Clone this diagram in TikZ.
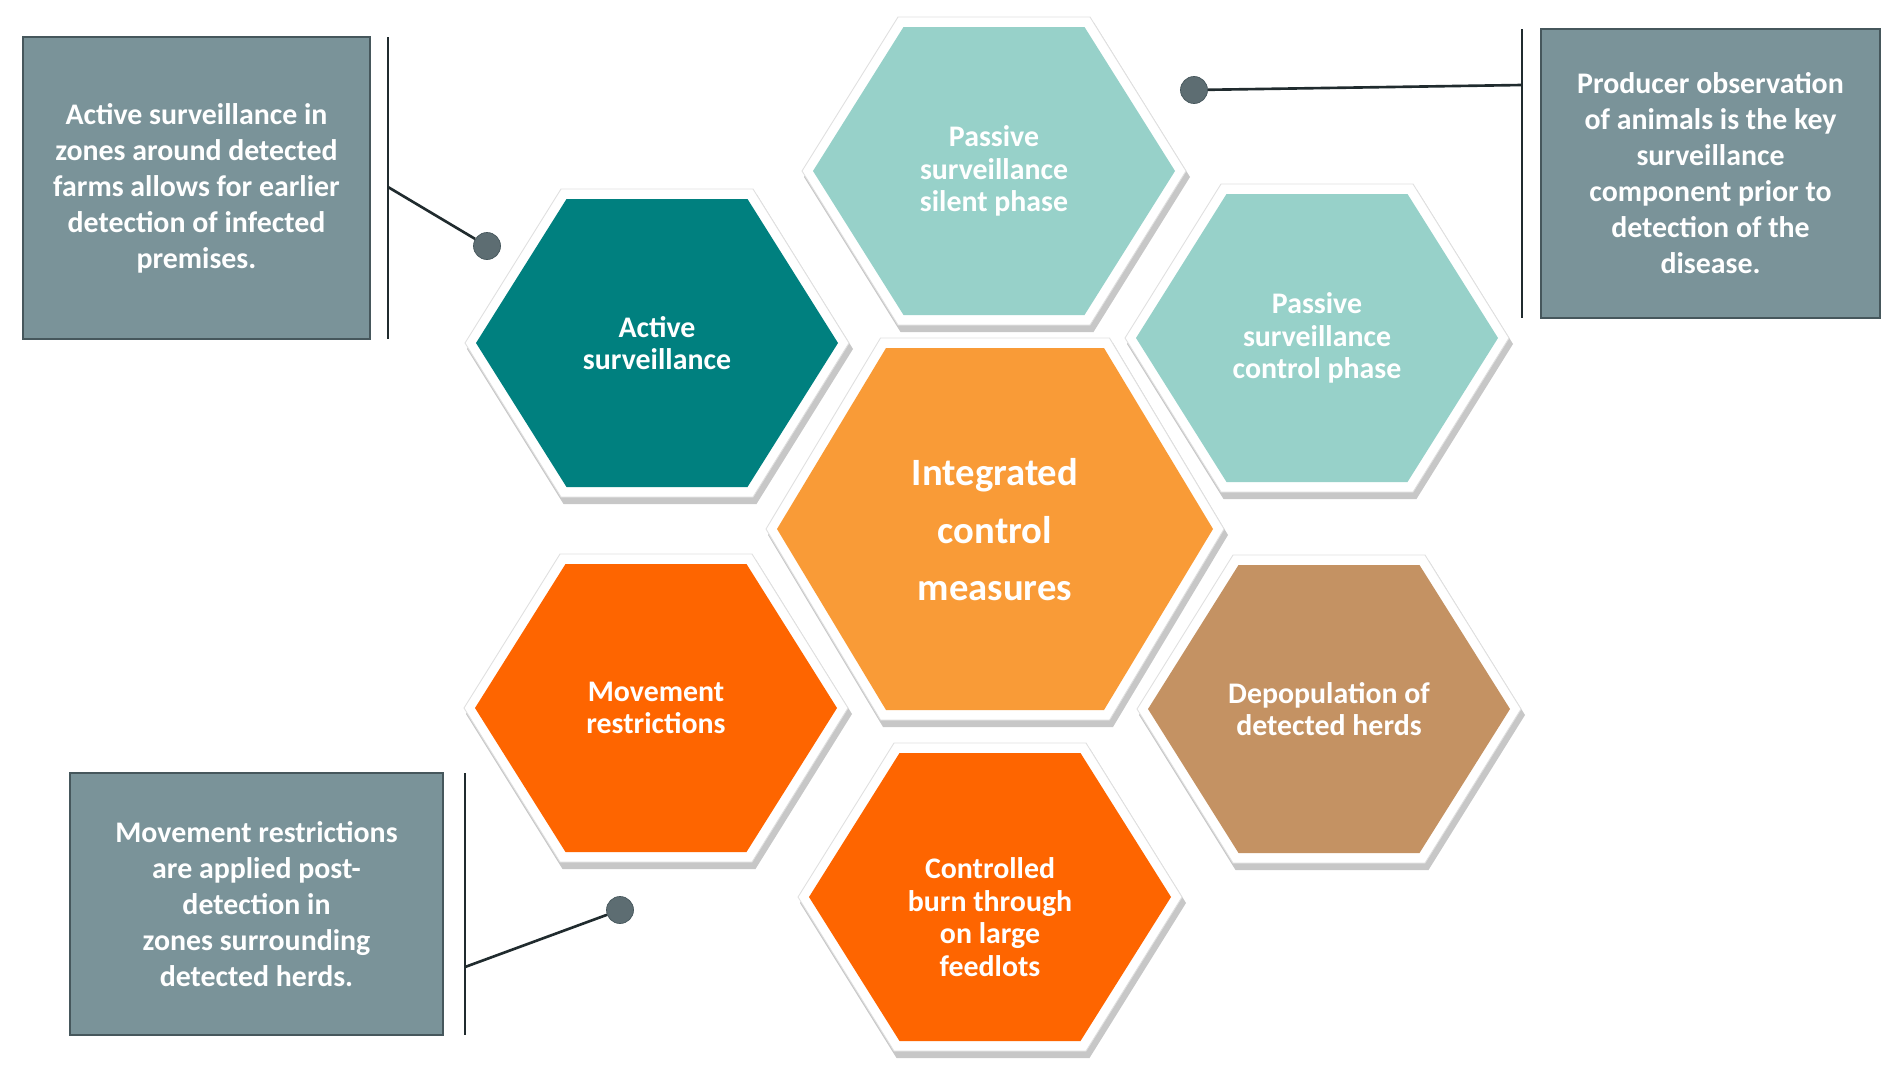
\documentclass[tikz,border=0pt]{standalone}
\usepackage{fontspec}
\newfontfamily\carlito{Carlito}

\definecolor{tealdark}{HTML}{00807F}
\definecolor{teallight}{HTML}{97D1C9}
\definecolor{orangemid}{HTML}{F99B37}
\definecolor{orangedeep}{HTML}{FE6500}
\definecolor{tan}{HTML}{C49263}
\definecolor{notegray}{HTML}{7A9399}
\definecolor{noteedge}{HTML}{46575C}
\definecolor{dotgray}{HTML}{5D6D72}
\definecolor{linedark}{HTML}{202B2E}

\tikzset{hexa/.pic={\path[pic actions] (-1,0) -- (-.5,1) -- (.5,1) -- (1,0) -- (.5,-1) -- (-.5,-1) -- cycle;}}

% centre x, centre y, half width, half height, colour
\newcommand{\hexcell}[5]{%
  \pic[fill=black, opacity=.22, xscale=#3+12, yscale=#4+11] at (#1+3,#2+6) {hexa};
  \pic[fill=white, draw=black!12, line width=.5pt, xscale=#3+11, yscale=#4+10] at (#1,#2) {hexa};
  \pic[fill=#5, xscale=#3, yscale=#4] at (#1,#2) {hexa};
}

\begin{document}
\begin{tikzpicture}[x=0.02cm, y=-0.02cm,
    hexlabel/.style={text=white, align=center, inner sep=0pt,
      font=\carlito\bfseries\fontsize{17}{18.6}\selectfont},
    centrelabel/.style={text=white, align=center, inner sep=0pt,
      font=\carlito\bfseries\fontsize{22}{32.7}\selectfont},
    notebox/.style={rectangle, fill=notegray, draw=noteedge, line width=1.1pt,
      text=white, align=center, inner sep=0pt,
      font=\carlito\bfseries\fontsize{17}{20.5}\selectfont},
    notebar/.style={draw=linedark, line width=1.6pt},
    notelink/.style={draw=linedark, line width=1.5pt},
    calldot/.style={circle, fill=dotgray, draw=noteedge, line width=.4pt,
      minimum size=0.54cm, inner sep=0pt}]
  \fill[white] (0,0) rectangle (1902,1075);
  \useasboundingbox (0,0) rectangle (1902,1075);

  \hexcell{657}{343}{181}{144}{tealdark}
  \hexcell{994}{171}{181}{144}{teallight}
  \hexcell{1317}{338}{181}{144}{teallight}
  \hexcell{995}{529}{218}{181}{orangemid}
  \hexcell{1329}{709}{181}{144}{tan}
  \hexcell{990}{897}{181}{144}{orangedeep}
  \hexcell{656}{708}{181}{144}{orangedeep}

  \node[hexlabel] (active) at (657,343) {Active\\surveillance};
  \node[hexlabel] (silent) at (994,171) {Passive\\surveillance\\silent phase};
  \node[hexlabel] (control) at (1317,338) {Passive\\surveillance\\control phase};
  \node[centrelabel] (integrated) at (995,530) {Integrated\\control\\measures};
  \node[hexlabel] (depop) at (1329,709) {Depopulation of\\detected herds};
  \node[hexlabel] (burn) at (990,917) {Controlled\\burn through\\on large\\feedlots};
  \node[hexlabel] (movement) at (656,708) {Movement\\restrictions};

  \node[notebox, minimum width=6.94cm, minimum height=6.04cm] (activenote) at (196.5,188)
    {Active surveillance in\\zones around detected\\farms allows for earlier\\detection of infected\\premises.};
  \node[notebox, minimum width=6.78cm, minimum height=5.78cm] (passivenote) at (1710.5,173.5)
    {Producer observation\\of animals is the key\\surveillance\\component prior to\\detection of the\\disease.};
  \node[notebox, minimum width=7.46cm, minimum height=5.24cm] (movenote) at (256.5,904)
    {Movement restrictions\\are applied post-\\detection in\\zones surrounding\\detected herds.};

  \coordinate (activetop) at (388,37);
  \coordinate (activebot) at (388,339);
  \coordinate (activejoin) at (388,187);
  \coordinate (passivetop) at (1522,29);
  \coordinate (passivebot) at (1522,318);
  \coordinate (passivejoin) at (1522,85);
  \coordinate (movetop) at (465,773);
  \coordinate (movebot) at (465,1035);
  \coordinate (movejoin) at (465,967);

  \draw[notebar] (activetop) -- (activebot);
  \draw[notebar] (passivetop) -- (passivebot);
  \draw[notebar] (movetop) -- (movebot);

  \node[calldot] (activedot) at (487,246) {};
  \node[calldot] (passivedot) at (1194,90) {};
  \node[calldot] (movedot) at (620,910) {};

  \draw[notelink] (activejoin) -- (activedot);
  \draw[notelink] (passivejoin) -- (passivedot);
  \draw[notelink] (movejoin) -- (movedot);
\end{tikzpicture}
\end{document}
